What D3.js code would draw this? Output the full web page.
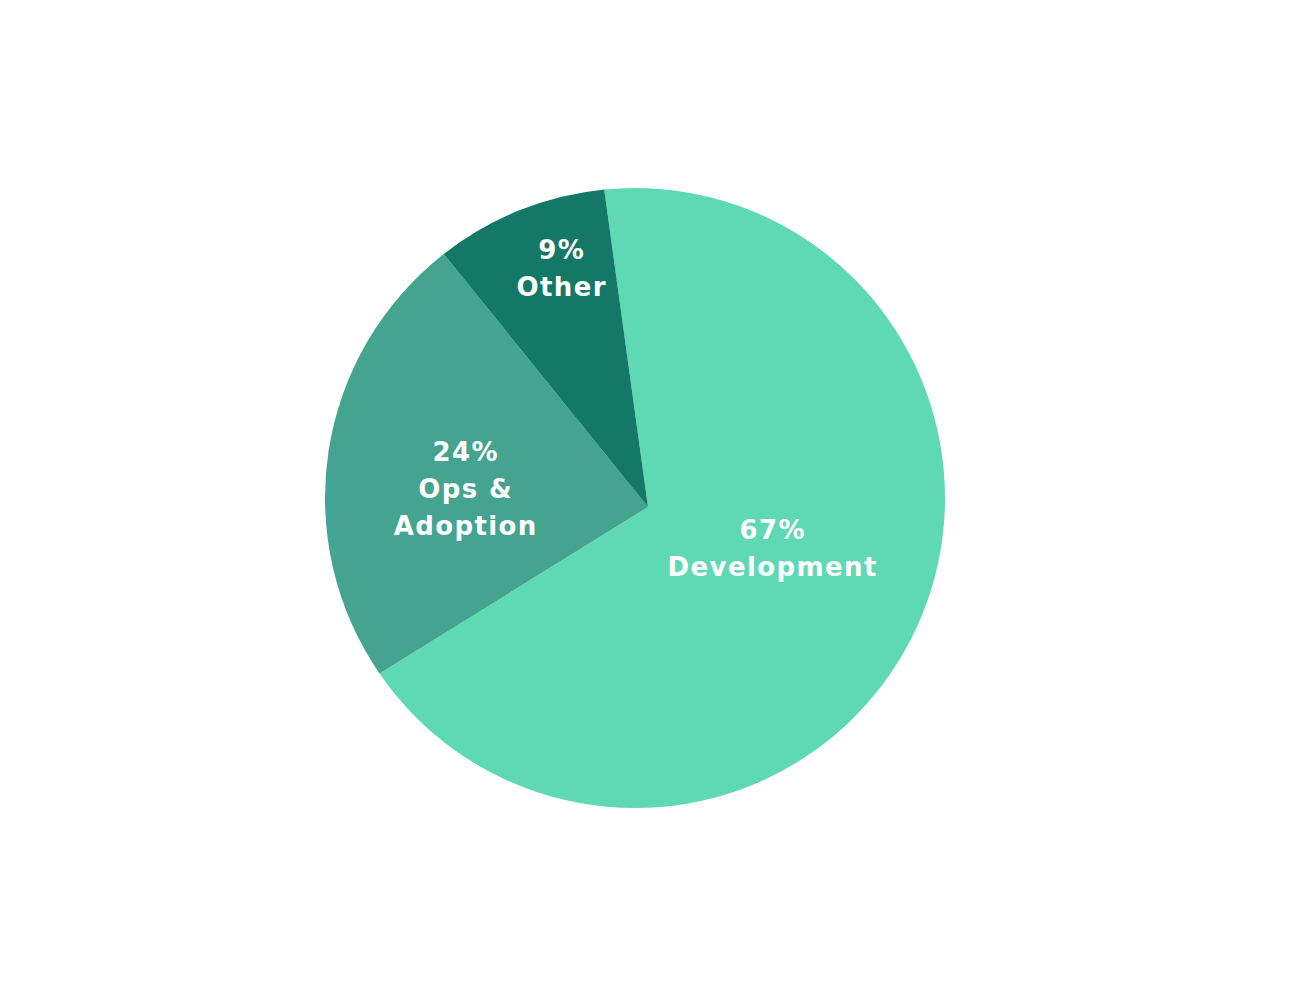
<!DOCTYPE html>
<html>
<head>
<meta charset="utf-8">
<script src="https://cdn.jsdelivr.net/npm/d3@7"></script>
<style>
  html, body { margin: 0; padding: 0; background: #ffffff; }
  svg { display: block; }
  .lbl { font-family: "DejaVu Sans", sans-serif; font-weight: bold; fill: #ffffff; letter-spacing: 1.4px; }
</style>
</head>
<body>
<script>
// ---- data ----
const categories = ["Development", "Ops & Adoption", "Other"];
const values = [67, 24, 9];
const labelLines = [["67%", "Development"], ["24%", "Ops &", "Adoption"], ["9%", "Other"]];

// ---- layout / style ----
const W = 1310, H = 997;
const cx = 635, cy = 498, R = 310;
const apexOffset = [13, 9];
const startDeg = -5.7;
const colors = ["#5fd9b3", "#44a48f", "#137865"];
const labelAnchors = [[137, 41], [-170, -37], [-74, -239]];
const lineGap = 37;
const fontSize = 26;

const svg = d3.select("body").append("svg").attr("width", W).attr("height", H);

const pie = d3.pie().sort(null).value(d => d)
  .startAngle(startDeg * Math.PI / 180)
  .endAngle(startDeg * Math.PI / 180 + 2 * Math.PI);
const arcs = pie(values);

const color = d3.scaleOrdinal().domain(categories).range(colors);

function slicePath(d) {
  const p = d3.path();
  const ax = cx + apexOffset[0], ay = cy + apexOffset[1];
  p.moveTo(ax, ay);
  p.lineTo(cx + R * Math.sin(d.startAngle), cy - R * Math.cos(d.startAngle));
  p.arc(cx, cy, R, d.startAngle - Math.PI / 2, d.endAngle - Math.PI / 2, false);
  p.closePath();
  return p.toString();
}

svg.append("g").selectAll("path").data(arcs).join("path")
  .attr("d", slicePath)
  .attr("fill", (d, i) => color(categories[i]));

const lg = svg.append("g");
arcs.forEach((d, i) => {
  const x = cx + labelAnchors[i][0] + 0.7;
  const t = lg.append("text").attr("class", "lbl")
    .attr("text-anchor", "middle")
    .attr("font-size", fontSize)
    .attr("x", x)
    .attr("y", cy + labelAnchors[i][1]);
  labelLines[i].forEach((s, j) => {
    t.append("tspan").attr("x", x)
      .attr("y", cy + labelAnchors[i][1] + j * lineGap).text(s);
  });
});
</script>
</body>
</html>
